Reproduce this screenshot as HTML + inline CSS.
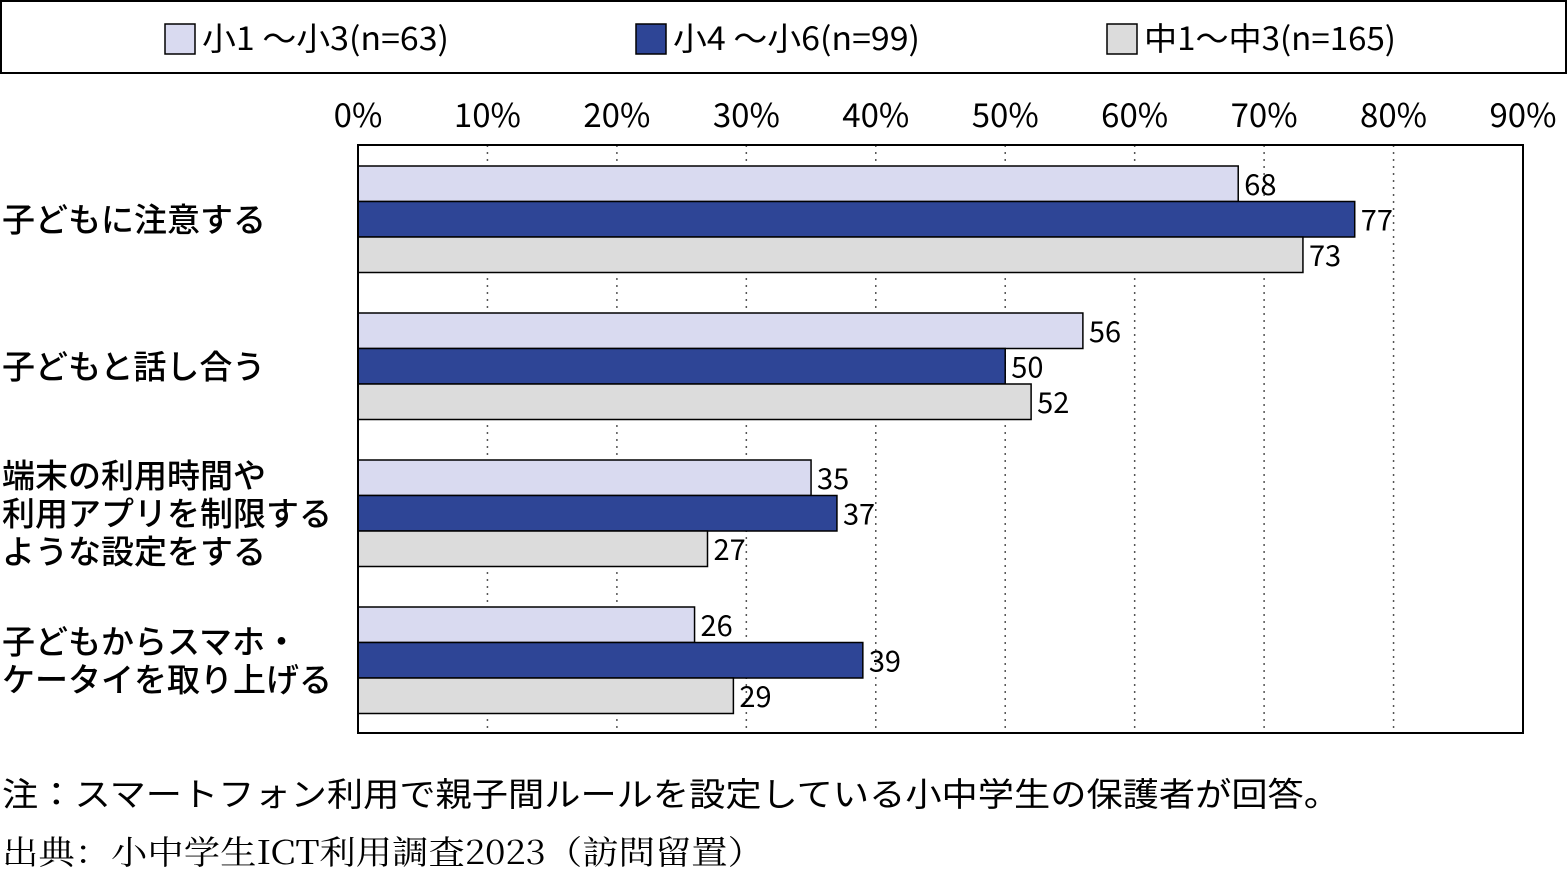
<!DOCTYPE html>
<html><head><meta charset="utf-8">
<style>
html,body{margin:0;padding:0;background:#fff;}
body{width:1568px;height:878px;overflow:hidden;position:relative;font-family:"Liberation Sans","Noto Sans CJK JP",sans-serif;}
svg text{font-family:"Noto Sans CJK JP","Liberation Sans",sans-serif;}
</style></head>
<body>
<svg id="chart" width="1568" height="878" xmlns="http://www.w3.org/2000/svg">
<g id="legend"></g>
<g id="grid"></g>
<g id="bars"></g>
<g id="labels"></g>
<text x="2" y="806" font-size="33" textLength="1338" lengthAdjust="spacingAndGlyphs">注：スマートフォン利用で親子間ルールを設定している小中学生の保護者が回答。</text>
<text x="2" y="864" font-size="33" textLength="762" lengthAdjust="spacingAndGlyphs" style="font-family:'Noto Serif CJK SC','Liberation Serif',serif">出典：小中学生ICT利用調査2023（訪問留置）</text>
</svg>
<script>
const categories = [["子どもに注意する"],["子どもと話し合う"],["端末の利用時間や","利用アプリを制限する","ような設定をする"],["子どもからスマホ・","ケータイを取り上げる"]];
const seriesNames = ["小1 ～小3(n=63)","小4 ～小6(n=99)","中1～中3(n=165)"];
const s1 = [68,56,35,26];
const s2 = [77,50,37,39];
const s3 = [73,52,27,29];
const ticks = [0,10,20,30,40,50,60,70,80,90];
const colors = ["#d9daf0","#2e4596","#dcdcdc"];
const series=[s1,s2,s3];
const NS="http://www.w3.org/2000/svg";
const X0=358,X1=1523,T=145,B=733;
const x=v=>X0+(v/90)*(X1-X0);
const band=(B-T)/categories.length;
function mk(tag,attrs,parent){const e=document.createElementNS(NS,tag);for(const k in attrs)e.setAttribute(k,attrs[k]);parent.appendChild(e);return e;}
const svg=document.getElementById('chart');
const lg=document.getElementById('legend');
let r=mk('rect',{x:1,y:1,width:1565,height:72,fill:'#fff',stroke:'#000','stroke-width':2},lg);


const lx=[165,636,1107];
const lw=[247,247,252];
seriesNames.forEach((n,i)=>{
 const sw=mk('rect',{x:lx[i],y:24,width:30,height:30,fill:colors[i],stroke:'#000','stroke-width':1.5},lg);
 
 
 const t=mk('text',{x:lx[i]+37,y:50,'font-size':32,textLength:lw[i],lengthAdjust:'spacingAndGlyphs'},lg);t.textContent=n;
 
 
});
const g=document.getElementById('grid');
ticks.forEach(v=>{
 if(v>0&&v<90){const l=mk('line',{x1:x(v),x2:x(v),y1:T,y2:B,stroke:'#555','stroke-width':1.5,'stroke-dasharray':'2,5'},g);
 
 }
 const t=mk('text',{x:x(v),y:127,'font-size':33,'text-anchor':'middle'},g);t.textContent=v+'%';
 
 
});
const bg=document.getElementById('bars');
const bh=35.5;
categories.forEach((c,ci)=>{
 series.forEach((s,si)=>{
  const y=T+ci*band+21+si*bh;
  const b=mk('rect',{x:X0,y:y,width:x(s[ci])-X0,height:bh,fill:colors[si],stroke:'#000','stroke-width':1.5},bg);
  
  
  const t=mk('text',{x:x(s[ci])+6,y:y+bh/2+11,'font-size':29},bg);t.textContent=s[ci];
  
  
 });
 const lines=c, cy=T+ci*band+21+1.5*bh, lh=38;
 lines.forEach((ln,li)=>{
  const t=mk('text',{x:2,y:cy+(li-(lines.length-1)/2)*lh+12,'font-size':33,'font-weight':'500'},document.getElementById('labels'));t.textContent=ln;
  
  
 });
});
const fr=mk('rect',{x:X0,y:T,width:X1-X0,height:B-T,fill:'none',stroke:'#000','stroke-width':2},svg);


</script>
</body></html>
